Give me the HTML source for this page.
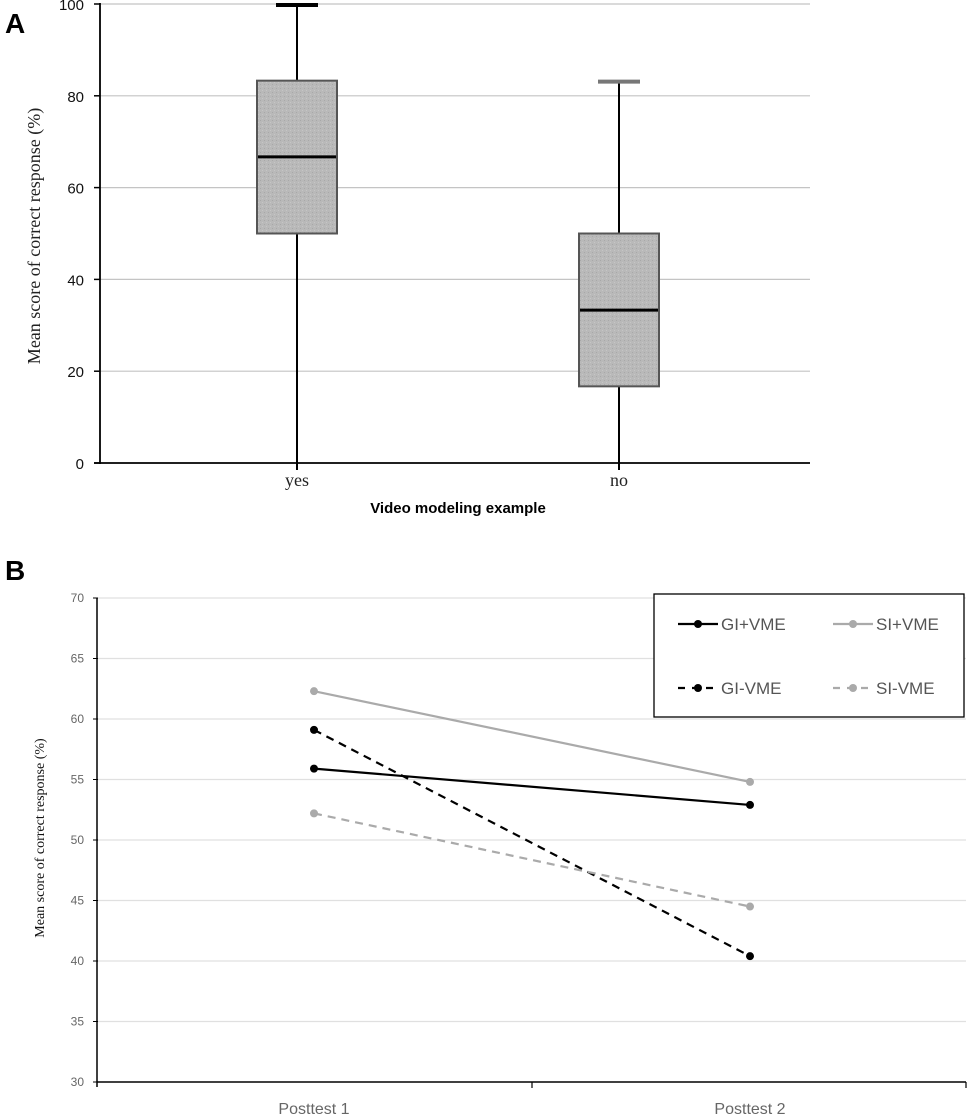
<!DOCTYPE html>
<html><head><meta charset="utf-8"><style>
html,body{margin:0;padding:0;background:#fff;}
svg{display:block;}
</style></head><body>
<svg id="root" width="969" height="1118" viewBox="0 0 969 1118" xmlns="http://www.w3.org/2000/svg">
<defs>
<pattern id="tex" width="4" height="4" patternUnits="userSpaceOnUse">
<rect width="4" height="4" fill="#b9b9b9"/><rect x="0" y="0" width="1" height="1" fill="#a8a8a8"/><rect x="2" y="2" width="1" height="1" fill="#c6c6c6"/>
</pattern>
</defs>
<g id="chartA"></g>
<g id="chartB"></g>
</svg>
<script>
// Chart A data
const boxCategories = ["yes", "no"];
const boxMin = [0, 0];
const boxQ1 = [50, 16.7];
const boxMedian = [66.7, 33.3];
const boxQ3 = [83.3, 50];
const boxMax = [100, 83.3];
const aTicks = [0, 20, 40, 60, 80, 100];
// Chart B data
const lineCategories = ["Posttest 1", "Posttest 2"];
const seriesNames = ["GI+VME", "SI+VME", "GI-VME", "SI-VME"];
const giPlusVme = [55.9, 52.9];
const siPlusVme = [62.3, 54.8];
const giMinusVme = [59.1, 40.4];
const siMinusVme = [52.2, 44.5];
const bTicks = [30, 35, 40, 45, 50, 55, 60, 65, 70];

const NS = "http://www.w3.org/2000/svg";
function mk(parent, tag, attrs, text) {
  const e = document.createElementNS(NS, tag);
  for (const k in attrs) e.setAttribute(k, attrs[k]);
  if (text !== undefined) e.textContent = text;
  parent.appendChild(e);
  return e;
}

// ---------- Chart A ----------
const A = document.getElementById("chartA");
const ay = v => 463 - v / 100 * 459;
const ax = i => [297, 619][i];
let t = mk(A, "text", {x: 5, y: 33, "font-family": "Liberation Sans, sans-serif", "font-weight": "bold", "font-size": 28}, "A");


aTicks.forEach(v => {
  if (v > 0) {
    const g = mk(A, "line", {x1: 100, x2: 810, y1: ay(v), y2: ay(v), stroke: "#c4c4c4", "stroke-width": 1.2});
    
    
  }
  const tk = mk(A, "line", {x1: 94, x2: 100, y1: ay(v), y2: ay(v), stroke: "#000", "stroke-width": 1.5});
  
  
  const l = mk(A, "text", {x: 84, y: ay(v) + 6, "text-anchor": "end", "font-family": "Liberation Sans, sans-serif", "font-size": 15, fill: "#111"}, String(v));
  
  
});
let axl = mk(A, "line", {x1: 100, x2: 100, y1: 3, y2: 464, stroke: "#000", "stroke-width": 1.8});


axl = mk(A, "line", {x1: 94, x2: 810, y1: 463, y2: 463, stroke: "#000", "stroke-width": 1.8});


boxCategories.forEach((c, i) => {
  const x = ax(i);
  const w = mk(A, "line", {x1: x, x2: x, y1: ay(boxMax[i]), y2: 470, stroke: "#000", "stroke-width": 2});
  
  
  const cap = mk(A, "line", {x1: x - 21, x2: x + 21, y1: ay(boxMax[i]) + 1, y2: ay(boxMax[i]) + 1, stroke: i == 0 ? "#000" : "#777", "stroke-width": 4});
  
  
  const b = mk(A, "rect", {x: x - 40, y: ay(boxQ3[i]), width: 80, height: ay(boxQ1[i]) - ay(boxQ3[i]), fill: "url(#tex)", stroke: "#555", "stroke-width": 2});
  
  
  const m = mk(A, "line", {x1: x - 39, x2: x + 39, y1: ay(boxMedian[i]), y2: ay(boxMedian[i]), stroke: "#000", "stroke-width": 3});
  
  
  const l = mk(A, "text", {x: x, y: 486, "text-anchor": "middle", "font-family": "Liberation Serif, serif", "font-size": 18, fill: "#222"}, c);
  
  
});
t = mk(A, "text", {x: 458, y: 513, "text-anchor": "middle", "font-family": "Liberation Sans, sans-serif", "font-weight": "bold", "font-size": 15}, "Video modeling example");


t = mk(A, "text", {x: 0, y: 0, "text-anchor": "middle", "font-family": "Liberation Serif, serif", "font-size": 18, fill: "#222", transform: "translate(40,236) rotate(-90)"}, "Mean score of correct response (%)");



// ---------- Chart B ----------
const B = document.getElementById("chartB");
const by = v => 1082 - (v - 30) / 40 * 484;
const bx = i => [314, 750][i];
t = mk(B, "text", {x: 5, y: 580, "font-family": "Liberation Sans, sans-serif", "font-weight": "bold", "font-size": 28}, "B");


bTicks.forEach(v => {
  if (v > 30) {
    const g = mk(B, "line", {x1: 98, x2: 966, y1: by(v), y2: by(v), stroke: "#e0e0e0", "stroke-width": 1.2});
    
    
  }
  const tk = mk(B, "line", {x1: 93, x2: 98, y1: by(v), y2: by(v), stroke: "#000", "stroke-width": 1});
  
  
  const l = mk(B, "text", {x: 84, y: by(v) + 4, "text-anchor": "end", "font-family": "Liberation Sans, sans-serif", "font-size": 12, fill: "#666"}, String(v));
  
  
});
axl = mk(B, "line", {x1: 97, x2: 97, y1: by(70), y2: 1087, stroke: "#000", "stroke-width": 1.5});


axl = mk(B, "line", {x1: 97, x2: 966, y1: 1082, y2: 1082, stroke: "#000", "stroke-width": 1.5});


[532, 966].forEach(x => {
  const tk = mk(B, "line", {x1: x, x2: x, y1: 1082, y2: 1088, stroke: "#000", "stroke-width": 1.2});
  
  
});
lineCategories.forEach((c, i) => {
  const l = mk(B, "text", {x: bx(i), y: 1114, "text-anchor": "middle", "font-family": "Liberation Sans, sans-serif", "font-size": 16, fill: "#666"}, c);
  
  
});
t = mk(B, "text", {x: 0, y: 0, "text-anchor": "middle", "font-family": "Liberation Serif, serif", "font-size": 14, fill: "#111", transform: "translate(44,838) rotate(-90)"}, "Mean score of correct response (%)");



const seriesVals = [giPlusVme, siPlusVme, giMinusVme, siMinusVme];
const seriesColor = ["#000", "#aaa", "#000", "#aaa"];
const seriesDash = ["", "", "8,6", "8,6"];
seriesVals.forEach((vals, s) => {
  const pts = vals.map((v, i) => bx(i) + "," + by(v)).join(" ");
  const pl = mk(B, "polyline", {points: pts, fill: "none", stroke: seriesColor[s], "stroke-width": 2.2, "stroke-dasharray": seriesDash[s]});
  
  
  vals.forEach((v, i) => {
    const c = mk(B, "circle", {cx: bx(i), cy: by(v), r: 4, fill: seriesColor[s]});
    
    
  });
});

// legend
const lg = mk(B, "g", {});


const lr = mk(lg, "rect", {x: 654, y: 594, width: 310, height: 123, fill: "#fff", stroke: "#000", "stroke-width": 1.3});


const lx = [678, 833], lyy = [624, 688];
seriesNames.forEach((n, s) => {
  const x0 = lx[s % 2], y0 = lyy[Math.floor(s / 2)];
  const e = mk(lg, "g", {});
  
  
  mk(e, "line", {x1: x0, x2: x0 + 40, y1: y0, y2: y0, stroke: seriesColor[s], "stroke-width": 2.2, "stroke-dasharray": seriesDash[s] ? "7,7" : ""});
  mk(e, "circle", {cx: x0 + 20, cy: y0, r: 4, fill: seriesColor[s]});
  mk(e, "text", {x: x0 + 43, y: y0 + 6, "font-family": "Liberation Sans, sans-serif", "font-size": 17, fill: "#555"}, n);
});
</script>
</body></html>
